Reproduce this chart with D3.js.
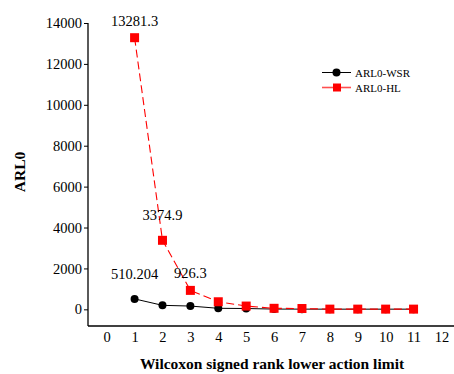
<!DOCTYPE html>
<html>
<head>
<meta charset="utf-8">
<script src="https://cdn.jsdelivr.net/npm/d3@7"></script>
<style>
  body { margin: 0; background: #fff; }
</style>
</head>
<body>
<svg id="chart" width="454" height="374"></svg>
<script>
// data
const limits = [1, 2, 3, 4, 5, 6, 7, 8, 9, 10, 11];
const arlWSR = [510.204, 195, 160, 50, 40, 12, 10, 8, 8, 8, 8];
const arlHL = [13281.3, 3374.9, 926.3, 370, 160, 50, 40, 10, 10, 10, 10];
const xTicks = [0, 1, 2, 3, 4, 5, 6, 7, 8, 9, 10, 11, 12];
const yTicks = [0, 2000, 4000, 6000, 8000, 10000, 12000, 14000];
const labelX = [1, 2, 3, 1];
const labelY = [13281.3, 3374.9, 926.3, 510.204];
const labelText = ["13281.3", "3374.9", "926.3", "510.204"];

// how far above its marker each label sits (px)
const labelGap = [12, 20, 12, 20];

const serif = "'Liberation Serif', 'Times New Roman', serif";
const svg = d3.select("#chart");

// scales
const x = d3.scaleLinear().domain([-0.67, 12.45]).range([88, 454]);
const y = d3.scaleLinear().domain([-815, 14000]).range([326, 23]);

// axes
const yAxis = svg.append("g")
    .attr("transform", "translate(88,0)")
    .call(d3.axisLeft(y).tickValues(yTicks).tickSize(4).tickPadding(2).tickFormat(d3.format("d")));
yAxis.attr("font-family", serif);
yAxis.select(".domain").attr("d", `M0,${y(14000)}V326`).attr("stroke", "#000").attr("stroke-width", 1.3);
yAxis.selectAll("text").style("font-family", serif).attr("font-size", 14.5).attr("fill", "#000");

const xAxis = svg.append("g")
    .attr("transform", "translate(0,326)")
    .call(d3.axisBottom(x).tickValues(xTicks).tickSize(0).tickPadding(6));
xAxis.attr("font-family", serif);
xAxis.select(".domain").attr("d", "M88,0H454").attr("stroke", "#000").attr("stroke-width", 1.3);
xAxis.selectAll("text").style("font-family", serif).attr("font-size", 14.5).attr("fill", "#000");

// lines
const wsrData = limits.map((d, i) => ({ x: d, y: arlWSR[i] }));
const hlData = limits.map((d, i) => ({ x: d, y: arlHL[i] }));
const line = d3.line().x(d => x(d.x)).y(d => y(d.y));

svg.append("path")
    .datum(wsrData)
    .attr("fill", "none")
    .attr("stroke", "#000")
    .attr("stroke-width", 1)
    .attr("d", line);

svg.selectAll(".dot")
    .data(wsrData)
    .enter()
    .append("circle")
    .attr("cx", d => x(d.x))
    .attr("cy", d => y(d.y))
    .attr("r", 4)
    .attr("fill", "#000");

svg.append("path")
    .datum(hlData)
    .attr("fill", "none")
    .attr("stroke", "#ff0000")
    .attr("stroke-width", 1.1)
    .attr("stroke-dasharray", "8,4")
    .attr("d", line);

svg.selectAll(".sq")
    .data(hlData)
    .enter()
    .append("rect")
    .attr("x", d => x(d.x) - 4.5)
    .attr("y", d => y(d.y) - 4.5)
    .attr("width", 9)
    .attr("height", 9)
    .attr("fill", "#ff0000");

// value labels
svg.selectAll(".vlabel")
    .data(labelText)
    .enter()
    .append("text")
    .attr("x", (d, i) => x(labelX[i]))
    .attr("y", (d, i) => y(labelY[i]) - labelGap[i])
    .attr("text-anchor", "middle")
    .style("font-family", serif)
    .attr("font-size", 14.5)
    .attr("fill", "#000")
    .text(d => d);

// legend
const legend = svg.append("g").attr("transform", "translate(322,72.5)");
legend.append("line").attr("x1", 0).attr("x2", 29).attr("y1", 0).attr("y2", 0).attr("stroke", "#000");
legend.append("circle").attr("cx", 14.5).attr("cy", 0).attr("r", 4).attr("fill", "#000");
legend.append("text").attr("x", 33).attr("y", 4).style("font-family", serif).attr("font-size", 11).text("ARL0-WSR");
legend.append("line").attr("x1", 0).attr("x2", 29).attr("y1", 15).attr("y2", 15).attr("stroke", "#ff5050").attr("stroke-width", 1.6);
legend.append("rect").attr("x", 11).attr("y", 11).attr("width", 8).attr("height", 8).attr("fill", "#ff0000");
legend.append("text").attr("x", 33).attr("y", 19).style("font-family", serif).attr("font-size", 11).text("ARL0-HL");

// axis titles
svg.append("text")
    .attr("transform", "translate(25,172) rotate(-90)")
    .attr("text-anchor", "middle")
    .style("font-family", serif)
    .attr("font-size", 15.5)
    .attr("font-weight", "bold")
    .text("ARL0");

svg.append("text")
    .attr("x", 272)
    .attr("y", 369)
    .attr("text-anchor", "middle")
    .style("font-family", serif)
    .attr("font-size", 15.5)
    .attr("font-weight", "bold")
    .text("Wilcoxon signed rank lower action limit");
</script>
</body>
</html>
